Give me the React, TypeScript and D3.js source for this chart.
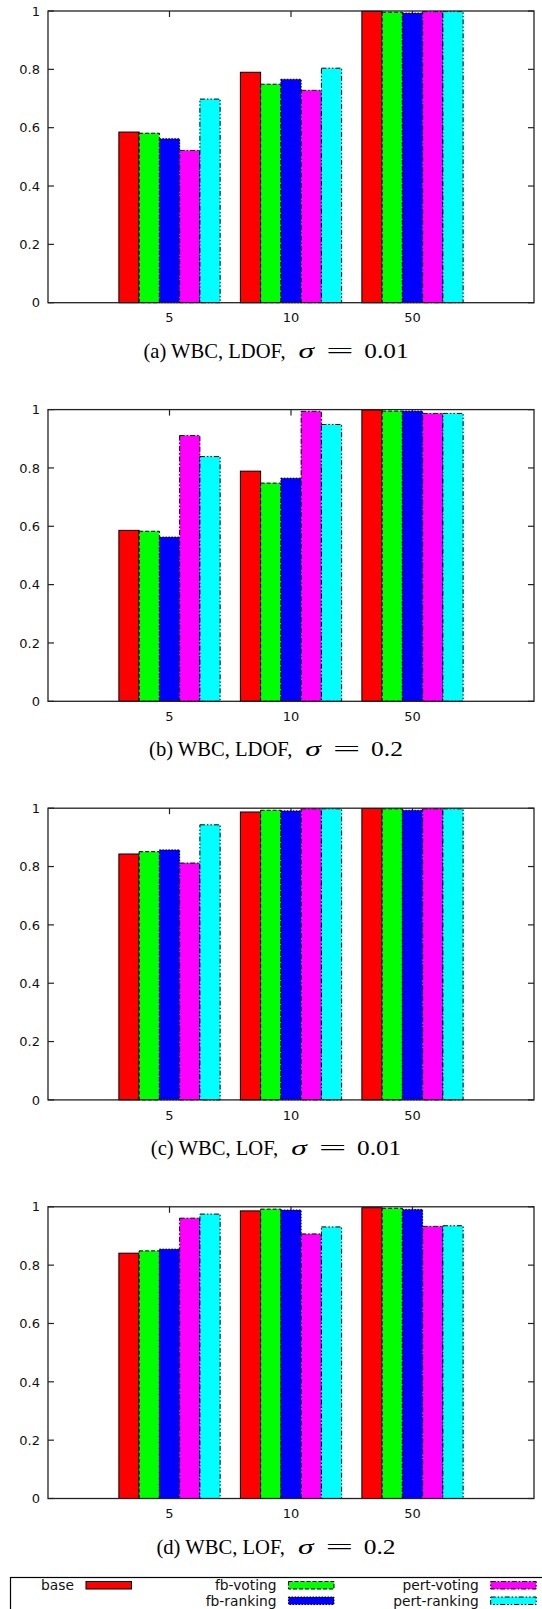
import React from "react";
import * as d3 from "d3";

const categories = ["5", "10", "50"];
const seriesNames = ["base", "fb-voting", "fb-ranking", "pert-voting", "pert-ranking"];
const seriesColors = ["#ff0000", "#00ff00", "#0000ff", "#ff00ff", "#00ffff"];
const seriesDash = ["", "4,2", "1.5,1.5", "5,2,1.5,2", "5,2,1.5,2,1.5,2"];
const yTicks = [0, 0.2, 0.4, 0.6, 0.8, 1];

// values per category (5, 10, 50), per series (base, fb-voting, fb-ranking, pert-voting, pert-ranking)
const panelA = [
  [0.585, 0.581, 0.562, 0.522, 0.698],
  [0.79, 0.749, 0.766, 0.728, 0.804],
  [0.999, 0.996, 0.993, 0.998, 0.998],
];
const panelB = [
  [0.586, 0.583, 0.563, 0.911, 0.839],
  [0.789, 0.748, 0.765, 0.994, 0.949],
  [0.999, 0.995, 0.995, 0.987, 0.987],
];
const panelC = [
  [0.843, 0.851, 0.857, 0.812, 0.943],
  [0.987, 0.993, 0.991, 0.998, 0.998],
  [0.999, 0.998, 0.993, 0.998, 0.998],
];
const panelD = [
  [0.841, 0.849, 0.855, 0.961, 0.975],
  [0.986, 0.992, 0.989, 0.907, 0.931],
  [0.997, 0.995, 0.991, 0.933, 0.935],
];
const panels = [panelA, panelB, panelC, panelD];
const captionPrefixes = ["(a) WBC, LDOF,", "(b) WBC, LDOF,", "(c) WBC, LOF,", "(d) WBC, LOF,"];
const captionSigmas = ["0.01", "0.2", "0.01", "0.2"];

const W = 542;
const H = 1609;
const plotLeft = 48;
const plotRight = 534;
const firstTop = 11;
const panelStep = 398.6;
const plotH = 291.7;
const tickFont = "'DejaVu Sans', sans-serif";
const serifFont = "'Liberation Serif', 'Times New Roman', serif";
const capSize = 21;

// Times-like advance widths (em) for the caption characters
const timesW: Record<string, number> = {
  "(": 0.333, ")": 0.333, " ": 0.25, a: 0.444, b: 0.5, c: 0.444, d: 0.5,
  W: 0.944, B: 0.667, C: 0.667, ",": 0.25, L: 0.611, D: 0.722, O: 0.722, F: 0.556,
};
function timesWidth(text: string, size: number): number {
  let w = 0;
  for (const ch of text) w += timesW[ch] ?? 0.5;
  return w * size;
}

function Panel({ data, idx }: { data: number[][]; idx: number }) {
  const top = firstTop + idx * panelStep;
  const bottom = top + plotH;
  const x = d3.scaleLinear().domain([-1, 3]).range([plotLeft, plotRight]);
  const y = d3.scaleLinear().domain([0, 1]).range([bottom, top]);
  const barW = x(1 / 6) - x(0);

  // caption layout
  const prefix = captionPrefixes[idx];
  const sig = captionSigmas[idx];
  const prefW = timesWidth(prefix, 20.3);
  const gap1 = 13;
  const sigmaW = 15.5;
  const gap2 = 12;
  const eqW = 27.7;
  const gap3 = 10.6;
  const numW = sig.replace(".", "").length * 12.4 + 7;
  const total = prefW + gap1 + sigmaW + gap2 + eqW + gap3 + numW;
  const cx = 276;
  const s = cx - total / 2;
  const capY = bottom + 55;

  return (
    <g>
      {/* ticks */}
      {yTicks.map((t) => (
        <g key={"yt" + t}>
          <line x1={plotLeft} x2={plotLeft + 6} y1={y(t)} y2={y(t)} stroke="#222" strokeWidth={1.2} />
          <line x1={plotRight - 6} x2={plotRight} y1={y(t)} y2={y(t)} stroke="#222" strokeWidth={1.2} />
          <text
            x={40}
            y={y(t)}
            dy="0.36em"
            textAnchor="end"
            fontFamily={tickFont}
            fontSize={13}
            fill="#111"
          >
            {d3.format("~g")(t)}
          </text>
        </g>
      ))}
      {categories.map((c, i) => (
        <g key={"xt" + c}>
          <line x1={x(i)} x2={x(i)} y1={top} y2={top + 6} stroke="#222" strokeWidth={1.2} />
          <line x1={x(i)} x2={x(i)} y1={bottom} y2={bottom - 6} stroke="#222" strokeWidth={1.2} />
          <text
            x={x(i)}
            y={bottom + 19.6}
            textAnchor="middle"
            fontFamily={tickFont}
            fontSize={13}
            fill="#111"
          >
            {c}
          </text>
        </g>
      ))}
      {/* bars */}
      {data.map((vals, i) =>
        vals.map((v, j) => {
          const bx = x(i - 5 / 12 + j / 6);
          return (
            <rect
              key={`b${i}-${j}`}
              x={bx}
              y={y(v)}
              width={barW}
              height={bottom - y(v)}
              fill={seriesColors[j]}
              stroke="#000"
              strokeWidth={1}
              strokeDasharray={seriesDash[j] || undefined}
            />
          );
        })
      )}
      {/* border */}
      <rect
        x={plotLeft}
        y={top}
        width={plotRight - plotLeft}
        height={plotH}
        fill="none"
        stroke="#222"
        strokeWidth={1.3}
      />
      {/* caption */}
      <text
        x={s}
        y={capY}
        fontFamily={serifFont}
        fontSize={capSize}
        textLength={prefW}
        lengthAdjust="spacingAndGlyphs"
        fill="#000"
      >
        {prefix}
      </text>
      <text
        x={s + prefW + gap1}
        y={capY}
        fontFamily={serifFont}
        fontStyle="italic"
        fontSize={capSize}
        textLength={sigmaW}
        lengthAdjust="spacingAndGlyphs"
        fill="#000"
      >
        σ
      </text>
      <text
        x={s + prefW + gap1 + sigmaW + gap2}
        y={capY}
        fontFamily={serifFont}
        fontSize={capSize}
        textLength={eqW}
        lengthAdjust="spacingAndGlyphs"
        fill="#000"
      >
        =
      </text>
      <text
        x={s + prefW + gap1 + sigmaW + gap2 + eqW + gap3}
        y={capY}
        fontFamily={serifFont}
        fontSize={capSize}
        textLength={numW}
        lengthAdjust="spacingAndGlyphs"
        fill="#000"
      >
        {sig}
      </text>
    </g>
  );
}

function Legend() {
  const boxTop = 1577;
  // column/row placement of each entry
  const colOf = [0, 1, 1, 2, 2];
  const rowOf = [0, 0, 1, 0, 1];
  const colTextEnd = [74, 276.5, 478.7];
  const swatchW = 45.5;
  return (
    <g>
      <rect x={10.5} y={boxTop + 0.5} width={560} height={60} fill="none" stroke="#000" strokeWidth={1.2} />
      {seriesNames.map((name, j) => {
        const tx = colTextEnd[colOf[j]];
        const rowY = boxTop + 8 + rowOf[j] * 15.5;
        return (
          <g key={name}>
            <text
              x={tx}
              y={rowY + 5}
              textAnchor="end"
              fontFamily={tickFont}
              fontSize={13.8}
              fill="#111"
            >
              {name}
            </text>
            <rect
              x={tx + 12}
              y={rowY - 3.5}
              width={swatchW}
              height={7.5}
              fill={seriesColors[j]}
              stroke="#000"
              strokeWidth={1}
              strokeDasharray={seriesDash[j] || undefined}
            />
          </g>
        );
      })}
    </g>
  );
}

export default function App() {
  return (
    <svg
      width={W}
      height={H}
      viewBox={`0 0 ${W} ${H}`}
      style={{ position: "absolute", left: 0, top: 0, background: "#fff" }}
    >
      <rect x={0} y={0} width={W} height={H} fill="#fff" />
      {panels.map((p, i) => (
        <Panel key={i} data={p} idx={i} />
      ))}
      <Legend />
    </svg>
  );
}
